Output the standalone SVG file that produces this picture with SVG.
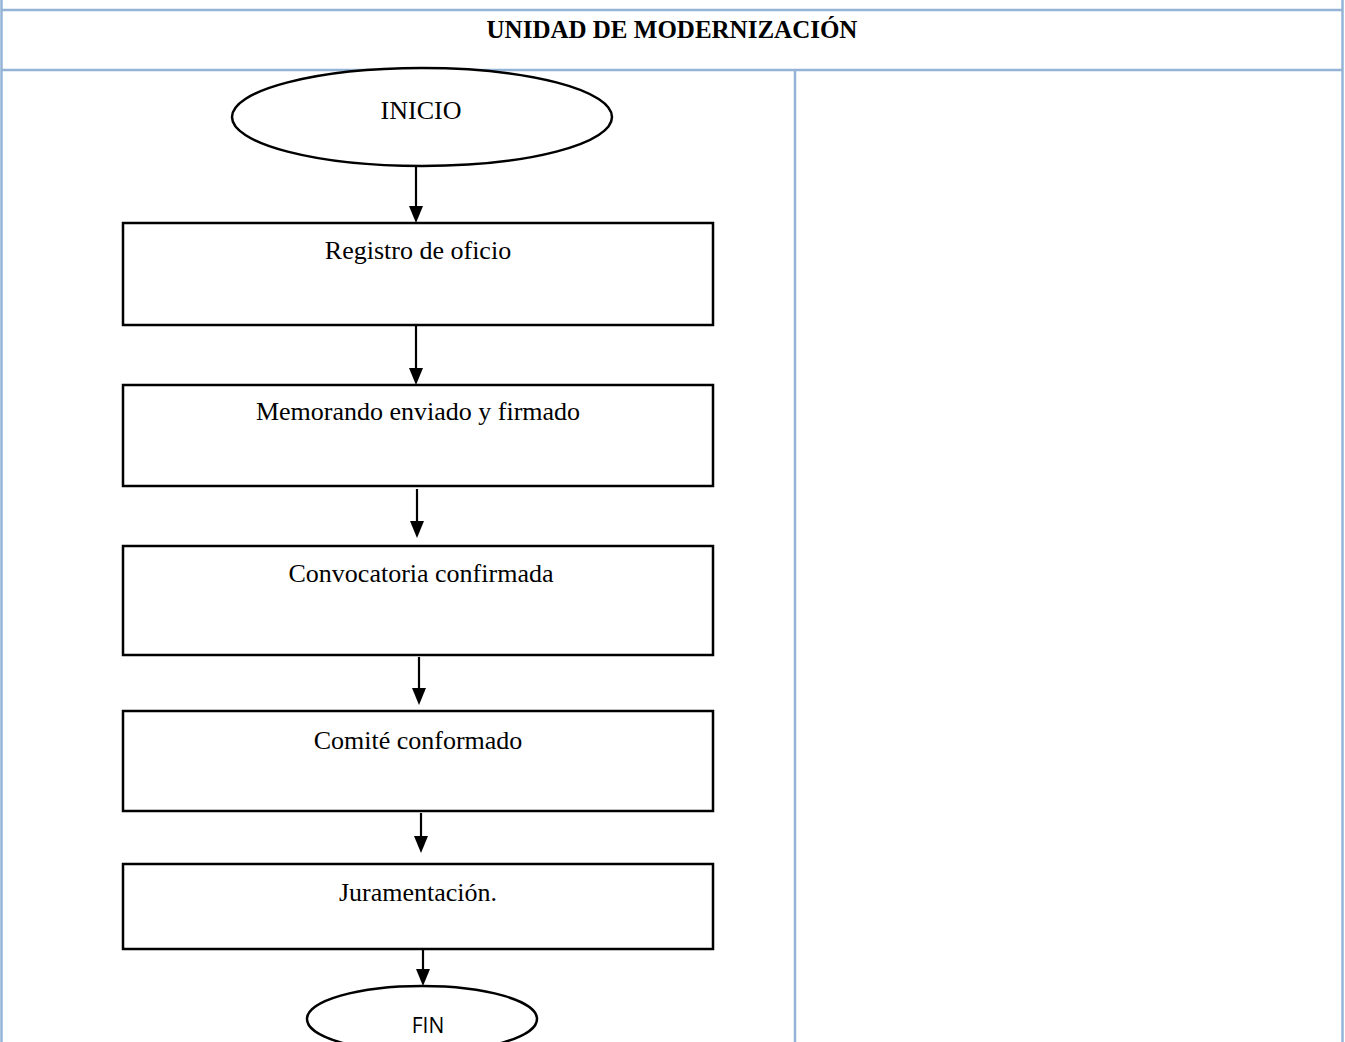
<svg xmlns="http://www.w3.org/2000/svg" width="1345" height="1042" viewBox="0 0 1345 1042">
<style>
.grid{stroke:#95b3d7;stroke-width:2.5;fill:none}
.box{fill:#fff;stroke:#000;stroke-width:2.5}
.t{font-family:"Liberation Serif","Times New Roman",serif;font-size:26px;fill:#000;text-anchor:middle}
.h{font-family:"Liberation Serif","Times New Roman",serif;font-size:25px;font-weight:bold;fill:#000;text-anchor:middle}
.s{font-family:"Open Sans","Liberation Sans",sans-serif;font-size:21px;fill:#000;text-anchor:middle}
.c{stroke:#000;stroke-width:2.2;fill:none}
.ah{fill:#000}
</style>
<rect width="1345" height="1042" fill="#fff"/>
<g id="table">
<line class="grid" x1="1" y1="10" x2="1342" y2="10"/>
<line class="grid" x1="1" y1="70" x2="1342" y2="70"/>
<line class="grid" x1="1.5" y1="0" x2="1.5" y2="1042"/>
<line class="grid" x1="1342.5" y1="0" x2="1342.5" y2="1042"/>
<line class="grid" x1="795" y1="70" x2="795" y2="1042"/>
<text class="h" x="672" y="38">UNIDAD DE MODERNIZACIÓN</text>
</g>
<g id="connectors">
<line class="c" x1="416" y1="166" x2="416" y2="206"/>
<polygon class="ah" points="409,206 423,206 416,223"/>
<line class="c" x1="416" y1="326" x2="416" y2="368"/>
<polygon class="ah" points="409,368 423,368 416,385"/>
<line class="c" x1="417" y1="489" x2="417" y2="521"/>
<polygon class="ah" points="410,521 424,521 417,538"/>
<line class="c" x1="419" y1="657" x2="419" y2="688"/>
<polygon class="ah" points="412,688 426,688 419,705"/>
<line class="c" x1="421" y1="813" x2="421" y2="836"/>
<polygon class="ah" points="414,836 428,836 421,853"/>
<line class="c" x1="423" y1="950" x2="423" y2="969"/>
<polygon class="ah" points="416,969 430,969 423,986"/>
</g>
<g id="inicio">
<ellipse class="box" cx="422" cy="117" rx="190" ry="49"/>
<text class="t" x="421" y="119">INICIO</text>
</g>
<g id="registro">
<rect class="box" x="123" y="223" width="590" height="102"/>
<text class="t" x="418" y="259">Registro de oficio</text>
</g>
<g id="memorando">
<rect class="box" x="123" y="385" width="590" height="101"/>
<text class="t" x="418" y="420">Memorando enviado y firmado</text>
</g>
<g id="convocatoria">
<rect class="box" x="123" y="546" width="590" height="109"/>
<text class="t" x="421" y="582">Convocatoria confirmada</text>
</g>
<g id="comite">
<rect class="box" x="123" y="711" width="590" height="100"/>
<text class="t" x="418" y="749">Comité conformado</text>
</g>
<g id="juramentacion">
<rect class="box" x="123" y="864" width="590" height="85"/>
<text class="t" x="418" y="901">Juramentación.</text>
</g>
<g id="fin">
<ellipse class="box" cx="422" cy="1019" rx="115" ry="33"/>
<text class="s" x="428" y="1033">FIN</text>
</g>
</svg>
